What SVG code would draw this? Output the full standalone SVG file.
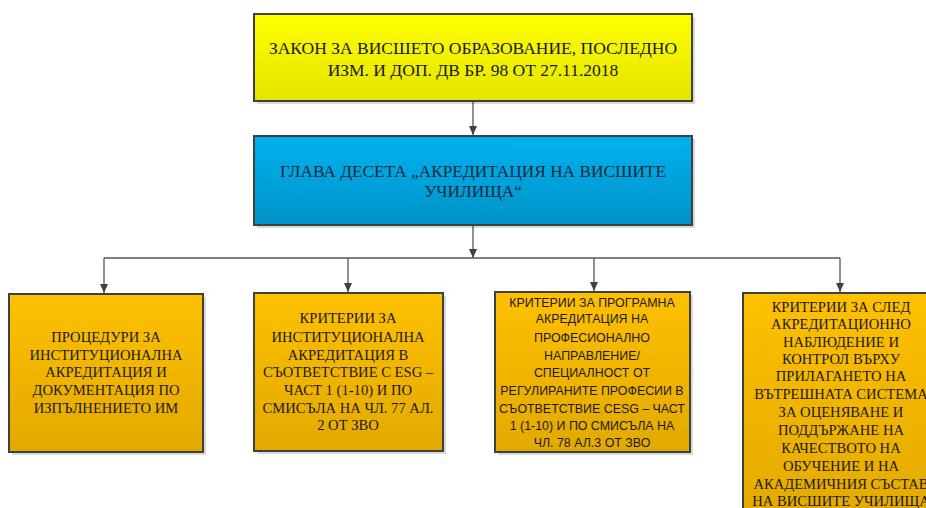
<svg xmlns="http://www.w3.org/2000/svg" width="926" height="508" viewBox="0 0 926 508">
<defs>
<linearGradient id="gy" x1="0" y1="0" x2="0" y2="1"><stop offset="0" stop-color="#ffff00"/><stop offset="1" stop-color="#e4e400"/></linearGradient>
<linearGradient id="gb" x1="0" y1="0" x2="0" y2="1"><stop offset="0" stop-color="#00b2f0"/><stop offset="1" stop-color="#0092c6"/></linearGradient>
<linearGradient id="go" x1="0" y1="0" x2="0" y2="1"><stop offset="0" stop-color="#ffc000"/><stop offset="1" stop-color="#e2a900"/></linearGradient>
<marker id="ah" markerWidth="9" markerHeight="8" refX="9" refY="4" orient="auto" markerUnits="userSpaceOnUse" viewBox="0 0 9 8">
<path d="M0,0 L9,4 L0,8 Z" fill="#404040"/>
</marker>
</defs>
<style>
.box{stroke:#404040;stroke-width:2}
.sh{fill:#000;opacity:0.15}
.serif{font-family:"Liberation Serif","Times New Roman",serif;fill:#1a1a1a;text-anchor:middle}
.sans{font-family:"Liberation Sans",Arial,sans-serif;fill:#1a1a1a;text-anchor:middle}
.con{stroke:#555;stroke-width:1.3;fill:none}
</style>
<rect width="926" height="508" fill="#fff"/>
<g id="connectors">
<path class="con" d="M473,101 V135" marker-end="url(#ah)"/>
<path class="con" d="M473,225 V258"  marker-end="url(#ah)"/>
<path class="con" d="M104,258 H840"/>
<path class="con" d="M104,258 V293" marker-end="url(#ah)"/>
<path class="con" d="M348,258 V292" marker-end="url(#ah)"/>
<path class="con" d="M594,258 V291" marker-end="url(#ah)"/>
<path class="con" d="M840,258 V292" marker-end="url(#ah)"/>
</g>
<g id="n1">
<rect class="sh" x="257" y="17" width="438" height="87"/>
<rect class="box" x="254" y="14" width="438" height="87" fill="url(#gy)"/>
<text class="serif" font-size="17.5"><tspan x="473" y="54">ЗАКОН ЗА ВИСШЕТО ОБРАЗОВАНИЕ, ПОСЛЕДНО</tspan><tspan x="473" y="76">ИЗМ. И ДОП. ДВ БР. 98 ОТ 27.11.2018</tspan></text>
</g>
<g id="n2">
<rect class="sh" x="257" y="139" width="438" height="89"/>
<rect class="box" x="254" y="136" width="438" height="89" fill="url(#gb)"/>
<text class="serif" font-size="17.3" style="fill:#1a2a3a"><tspan x="473" y="177">ГЛАВА ДЕСЕТА „АКРЕДИТАЦИЯ НА ВИСШИТЕ</tspan><tspan x="473" y="197">УЧИЛИЩА“</tspan></text>
</g>
<g id="n3">
<rect class="sh" x="12" y="297" width="194" height="158"/>
<rect class="box" x="9" y="294" width="194" height="158" fill="url(#go)"/>
<text class="serif" font-size="14.6"><tspan x="106" y="342">ПРОЦЕДУРИ ЗА</tspan><tspan x="106" y="360">ИНСТИТУЦИОНАЛНА</tspan><tspan x="106" y="377">АКРЕДИТАЦИЯ И</tspan><tspan x="106" y="395">ДОКУМЕНТАЦИЯ ПО</tspan><tspan x="106" y="413">ИЗПЪЛНЕНИЕТО ИМ</tspan></text>
</g>
<g id="n4">
<rect class="sh" x="257" y="296" width="189" height="158"/>
<rect class="box" x="254" y="293" width="189" height="158" fill="url(#go)"/>
<text class="serif" font-size="14.6"><tspan x="348" y="323">КРИТЕРИИ ЗА</tspan><tspan x="348" y="342">ИНСТИТУЦИОНАЛНА</tspan><tspan x="348" y="360">АКРЕДИТАЦИЯ В</tspan><tspan x="348" y="377">СЪОТВЕТСТВИЕ С ESG –</tspan><tspan x="348" y="395">ЧАСТ 1 (1-10) И ПО</tspan><tspan x="348" y="413">СМИСЪЛА НА ЧЛ. 77 АЛ.</tspan><tspan x="348" y="430">2 ОТ ЗВО</tspan></text>
</g>
<g id="n5">
<rect class="sh" x="498" y="295" width="195" height="160"/>
<rect class="box" x="495" y="292" width="195" height="160" fill="url(#go)"/>
<text class="sans" font-size="12.4"><tspan x="592" y="307">КРИТЕРИИ ЗА ПРОГРАМНА</tspan><tspan x="592" y="323">АКРЕДИТАЦИЯ НА</tspan><tspan x="592" y="342">ПРОФЕСИОНАЛНО</tspan><tspan x="592" y="360">НАПРАВЛЕНИЕ/</tspan><tspan x="592" y="377">СПЕЦИАЛНОСТ ОТ</tspan><tspan x="592" y="395">РЕГУЛИРАНИТЕ ПРОФЕСИИ В</tspan><tspan x="592" y="413">СЪОТВЕТСТВИЕ CESG – ЧАСТ</tspan><tspan x="592" y="430">1 (1-10) И ПО СМИСЪЛА НА</tspan><tspan x="592" y="447">ЧЛ. 78 АЛ.3 ОТ ЗВО</tspan></text>
</g>
<g id="n6">
<rect class="box" x="743" y="293" width="196" height="230" fill="url(#go)"/>
<text class="serif" font-size="14.6"><tspan x="841" y="312">КРИТЕРИИ ЗА СЛЕД</tspan><tspan x="841" y="329">АКРЕДИТАЦИОННО</tspan><tspan x="841" y="347">НАБЛЮДЕНИЕ И</tspan><tspan x="841" y="364">КОНТРОЛ ВЪРХУ</tspan><tspan x="841" y="381">ПРИЛАГАНЕТО НА</tspan><tspan x="841" y="399">ВЪТРЕШНАТА СИСТЕМА</tspan><tspan x="841" y="417">ЗА ОЦЕНЯВАНЕ И</tspan><tspan x="841" y="435">ПОДДЪРЖАНЕ НА</tspan><tspan x="841" y="453">КАЧЕСТВОТО НА</tspan><tspan x="841" y="471">ОБУЧЕНИЕ И НА</tspan><tspan x="841" y="489">АКАДЕМИЧНИЯ СЪСТАВ</tspan><tspan x="841" y="506">НА ВИСШИТЕ УЧИЛИЩА</tspan></text>
</g>
</svg>
